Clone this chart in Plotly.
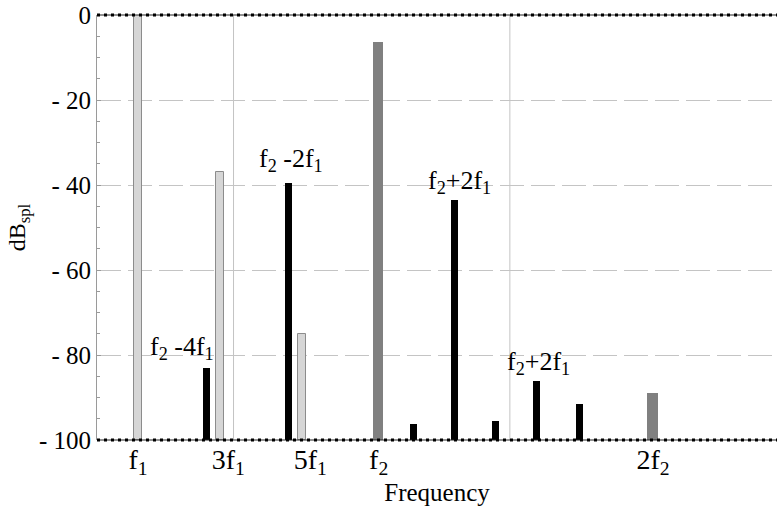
import plotly.graph_objects as go

# Spectrum of a two-tone signal: primaries, harmonics and distortion products
# Frequencies are expressed in multiples of f1, levels in dB SPL.

# harmonics of f1 (light grey)
harm_freq = [1.0, 3.0, 5.0]
harm_db = [0.0, -37.0, -75.0]

# intermodulation / distortion products (black)
dist_freq = [2.66, 4.68, 7.72, 8.73, 9.73, 10.73, 11.76]
dist_db = [-83.0, -39.5, -96.3, -43.5, -95.5, -86.0, -91.5]

# f2 and its harmonic (dark grey)
f2_freq = [6.85, 13.55]
f2_db = [-6.3, -88.9]

# labelled products: text, x and y of the label
label_text = ["f<sub>2</sub> -4f<sub>1</sub>", "f<sub>2</sub> -2f<sub>1</sub>",
              "f<sub>2</sub>+2f<sub>1</sub>", "f<sub>2</sub>+2f<sub>1</sub>"]
label_x = [2.07, 4.73, 8.85, 10.78]
label_y = [-78.4, -34.1, -39.3, -81.9]

# frequency axis labels
xtick_pos = [1.0, 3.2, 5.2, 6.87, 13.56]
xtick_text = ["f<sub>1</sub>", "3f<sub>1</sub>", "5f<sub>1</sub>", "f<sub>2</sub>", "2f<sub>2</sub>"]

# level axis labels
ytick_pos = [0, -20, -40, -60, -80, -100]
ytick_text = ["0", "- 20", "- 40", "- 60", "- 80", "- 100"]

# vertical reference lines
vgrid_x = [3.33, 10.07]

FLOOR = -100.0
SERIF = "Liberation Serif, Times New Roman, serif"

fig = go.Figure()


def add_bars(freqs, levels, width, fill, outline, outline_w):
    fig.add_trace(go.Bar(
        x=freqs,
        y=[v - FLOOR for v in levels],
        base=FLOOR,
        width=width,
        marker=dict(color=fill, line=dict(color=outline, width=outline_w)),
        showlegend=False,
        hoverinfo="skip",
    ))


add_bars(harm_freq, harm_db, 0.2, "#d6d6d6", "#8c8c8c", 1)
add_bars(dist_freq, dist_db, 0.17, "#000000", "#000000", 0)
add_bars(f2_freq, f2_db, 0.26, "#808080", "#808080", 0)

for xv in vgrid_x:
    fig.add_shape(type="line", xref="x", yref="y domain", x0=xv, x1=xv, y0=0, y1=1,
                  line=dict(color="#c4c4c4", width=1), layer="below")

# dotted frame at 0 dB and at the floor
for yd in (0, 1):
    fig.add_shape(type="line", xref="x domain", yref="y domain", x0=0, x1=1, y0=yd, y1=yd,
                  line=dict(color="#222222", width=1), layer="above")
    fig.add_shape(type="line", xref="x domain", yref="y domain", x0=0, x1=1, y0=yd, y1=yd,
                  line=dict(color="#000000", width=3, dash="3px,4px"), layer="above")

for t, xv, yv in zip(label_text, label_x, label_y):
    fig.add_annotation(x=xv, y=yv, text=t, showarrow=False, xanchor="center", yanchor="middle",
                       font=dict(family=SERIF, size=26, color="#000000"))

fig.update_layout(
    width=777, height=512,
    margin=dict(l=97, r=0, t=15, b=72),
    paper_bgcolor="white", plot_bgcolor="white",
    barmode="overlay",
    bargap=0,
    font=dict(family=SERIF, color="#000000"),
    xaxis=dict(
        range=[0, 680 / 41],
        tickmode="array", tickvals=xtick_pos, ticktext=xtick_text,
        tickfont=dict(family=SERIF, size=28),
        showgrid=False, zeroline=False, showline=False, ticks="",
        title=dict(text="Frequency", font=dict(family=SERIF, size=25), standoff=4),
    ),
    yaxis=dict(
        range=[FLOOR, 0],
        tickmode="array", tickvals=ytick_pos, ticktext=ytick_text,
        tickfont=dict(family=SERIF, size=25),
        ticks="inside", ticklen=4, tickcolor="#9a9a9a",
        showline=True, linecolor="#9a9a9a", linewidth=1,
        showgrid=True, gridcolor="#c4c4c4", gridwidth=1, griddash="24px,7px",
        zeroline=False,
        minor=dict(dtick=5, ticks="inside", ticklen=3, tickcolor="#9a9a9a", showgrid=False),
        title=dict(text="dB<sub>spl</sub>", font=dict(family=SERIF, size=24), standoff=6),
    ),
)

fig.write_html("out.html")
